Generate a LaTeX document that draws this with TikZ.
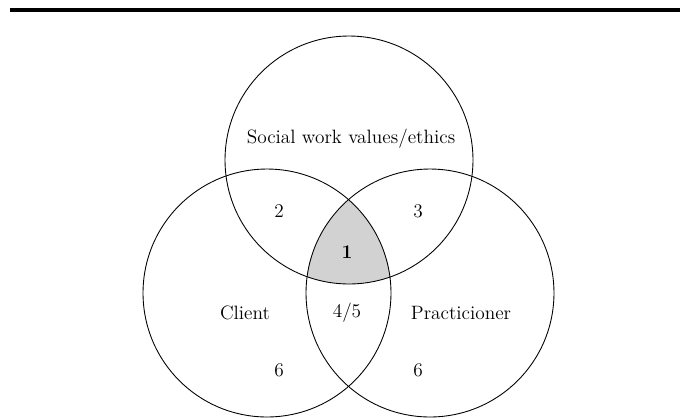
\documentclass[tikz,border=0pt]{standalone}
\usepackage{xcolor}
\usepackage{tikz}
\usetikzlibrary{positioning}

\begin{document}
\begin{tikzpicture}[
        x=0.02cm, y=-0.02cm,
        every node/.style={font=\fontsize{11}{13}\selectfont},
        set/.style={draw, circle, line width=0.5pt, minimum size=4.96cm, inner sep=0pt},
        region/.style={inner sep=1pt},
        rule/.style={line width=1.8pt}
    ]
        \useasboundingbox (0,0) rectangle (680,417);

        % shaded overlap of the three sets
        \begin{scope}
            \clip (349,160) circle[radius=2.48cm];
            \clip (267,293) circle[radius=2.48cm];
            \fill[gray!35] (430,293) circle[radius=2.48cm];
        \end{scope}

        \node[set] (ethics) at (349,160) {};
        \node[set] (client) at (267,293) {};
        \node[set] (prac) at (430,293) {};

        \node[region] (ethicslbl) at (351,139) {Social work values/ethics};
        \node[region] (clientlbl) at (245,313) {Client};
        \node[region] (praclbl) at (461,313) {Practicioner};

        \node[region] (r1) at (347,252) {\textbf{1}};
        \node[region] (r2) at (279,211) {2};
        \node[region] (r3) at (418,211) {3};
        \node[region] (r45) at (347,313) {4/5};
        \node[region] (r6a) at (279,370) {6};
        \node[region] (r6b) at (418,370) {6};

        \coordinate (ruleL) at (10,10);
        \coordinate (ruleR) at (680,10);
        \draw[rule] (ruleL) -- (ruleR);
    \end{tikzpicture}
\end{document}
